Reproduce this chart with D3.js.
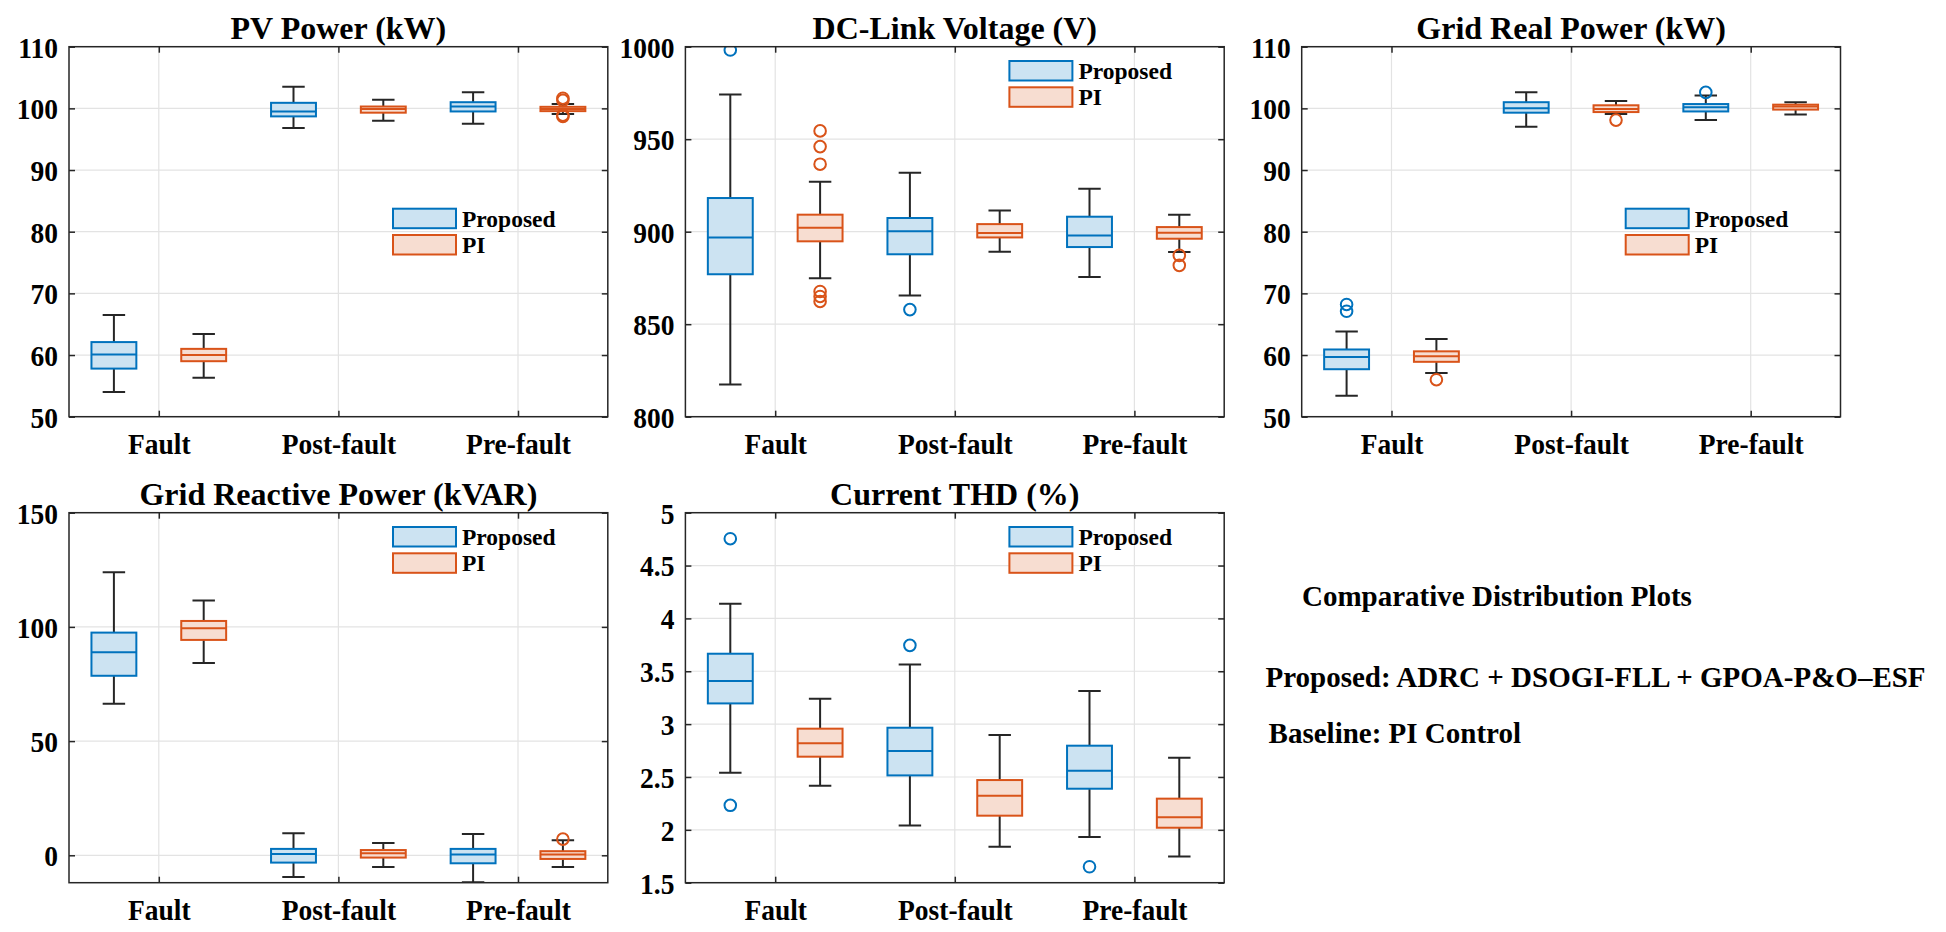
<!DOCTYPE html>
<html>
<head>
<meta charset="utf-8">
<script src="https://cdn.jsdelivr.net/npm/d3@7"></script>
<style>
  html, body { margin: 0; padding: 0; background: #fff; }
  svg { display: block; }
  text { font-family: "Liberation Serif", "Times New Roman", serif; font-weight: bold; fill: #000; }
</style>
</head>
<body>
<svg id="chart" width="1946" height="932"></svg>
<script>
// ---------------- DATA ----------------
const categories = ["Fault", "Post-fault", "Pre-fault"];
const groups = ["Proposed", "PI"];

// box statistics per category: [lower whisker, Q1, median, Q3, upper whisker]
const pvProposed = [[54.0, 57.8, 60.1, 62.1, 66.5], [96.8, 98.7, 99.5, 100.9, 103.5], [97.5, 99.5, 100.3, 101.0, 102.6]];
const pvPI = [[56.3, 59.0, 60.0, 61.0, 63.4], [98.0, 99.3, 99.9, 100.3, 101.4], [99.1, 99.55, 99.9, 100.25, 100.7]];
const pvProposedOutliers = [[], [], []];
const pvPIOutliers = [[], [], [101.65, 101.3, 98.9, 98.7]];
const pvTicks = [50, 60, 70, 80, 90, 100, 110];

const dcProposed = [[817.4, 877.0, 896.9, 918.2, 974.1], [865.5, 887.8, 900.2, 907.4, 931.8], [875.5, 891.7, 898.0, 908.1, 923.2]];
const dcPI = [[874.9, 894.8, 902.2, 909.2, 927.0], [889.2, 896.9, 899.3, 904.1, 911.5], [889.0, 896.2, 899.5, 902.5, 909.2]];
const dcProposedOutliers = [[998.2], [857.9], []];
const dcPIOutliers = [[954.5, 946.0, 936.5, 867.7, 865.0, 862.3], [], [887.2, 881.8]];
const dcTicks = [800, 850, 900, 950, 1000];

const gridPProposed = [[53.4, 57.7, 59.7, 60.9, 63.8], [97.0, 99.3, 100.0, 101.0, 102.6], [98.1, 99.5, 100.2, 100.7, 102.1]];
const gridPPI = [[57.1, 58.9, 59.8, 60.6, 62.6], [99.1, 99.4, 99.9, 100.5, 101.2], [99.0, 99.8, 100.3, 100.6, 101.0]];
const gridPProposedOutliers = [[68.2, 67.1], [], [102.6]];
const gridPPIOutliers = [[56.0], [98.1], []];
const gridPTicks = [50, 60, 70, 80, 90, 100, 110];

const gridQProposed = [[66.4, 78.6, 88.9, 97.5, 123.9], [-9.5, -3.2, 0.6, 2.8, 9.6], [-11.8, -3.5, 0.3, 2.8, 9.3]];
const gridQPI = [[84.2, 94.3, 99.4, 102.6, 111.6], [-5.1, -1.0, 0.9, 2.3, 5.4], [-5.1, -1.6, 0.3, 1.8, 6.6]];
const gridQProposedOutliers = [[], [], []];
const gridQPIOutliers = [[], [], [7.1]];
const gridQTicks = [0, 50, 100, 150];

const thdProposed = [[2.541, 3.196, 3.408, 3.666, 4.139], [2.042, 2.515, 2.746, 2.966, 3.565], [1.932, 2.389, 2.560, 2.796, 3.313]];
const thdPI = [[2.418, 2.692, 2.818, 2.957, 3.241], [1.841, 2.134, 2.323, 2.471, 2.897], [1.749, 2.020, 2.118, 2.295, 2.683]];
const thdProposedOutliers = [[4.754, 2.232], [3.745], [1.651]];
const thdPIOutliers = [[], [], []];
const thdTicks = [1.5, 2, 2.5, 3, 3.5, 4, 4.5, 5];
const thdTickLabels = ["1.5", "2", "2.5", "3", "3.5", "4", "4.5", "5"];

const titles = ["PV Power (kW)", "DC-Link Voltage (V)", "Grid Real Power (kW)", "Grid Reactive Power (kVAR)", "Current THD (%)"];
const noteLines = ["Comparative Distribution Plots", "Proposed: ADRC + DSOGI-FLL + GPOA-P&O\u2013ESF", "Baseline: PI Control"];

// ---------------- LAYOUT ----------------
const colors = { Proposed: "#0072BD", PI: "#D95319" };
const fills = { Proposed: "#CCE3F2", PI: "#F7DDD1" };
const axisColor = "#262626";
const gridColor = "#e3e3e3";

const panels = [
  { title: titles[0], x: 69, y: 46.7, dom: [50, 110], ticks: pvTicks, labels: null, legendTop: 162, prop: pvProposed, pi: pvPI, propOut: pvProposedOutliers, piOut: pvPIOutliers },
  { title: titles[1], x: 685.4, y: 46.7, dom: [800, 1000], ticks: dcTicks, labels: null, legendTop: 14.3, prop: dcProposed, pi: dcPI, propOut: dcProposedOutliers, piOut: dcPIOutliers },
  { title: titles[2], x: 1301.7, y: 46.7, dom: [50, 110], ticks: gridPTicks, labels: null, legendTop: 162, prop: gridPProposed, pi: gridPPI, propOut: gridPProposedOutliers, piOut: gridPPIOutliers },
  { title: titles[3], x: 69, y: 512.7, dom: [-12, 150], ticks: gridQTicks, labels: null, legendTop: 14.3, prop: gridQProposed, pi: gridQPI, propOut: gridQProposedOutliers, piOut: gridQPIOutliers },
  { title: titles[4], x: 685.4, y: 512.7, dom: [1.5, 5], ticks: thdTicks, labels: thdTickLabels, legendTop: 14.3, prop: thdProposed, pi: thdPI, propOut: thdProposedOutliers, piOut: thdPIOutliers }
];
const W = 538.8, H = 370;
const tickLen = 6;
const stretchY = 1.1;

function stretch(sel) {
  sel.each(function () {
    const t = d3.select(this);
    const x = +t.attr("x") || 0, y = +t.attr("y") || 0;
    t.attr("transform", `translate(${x},${y}) scale(1,${stretchY}) translate(${-x},${-y})`);
  });
}

const svg = d3.select("#chart");

panels.forEach((p, pi) => {
  const g = svg.append("g").attr("transform", `translate(${p.x},${p.y})`);
  const xs = d3.scaleLinear().domain([0.5, 3.5]).range([0, W]);
  const ys = d3.scaleLinear().domain(p.dom).range([H, 0]);

  const clipId = "clip" + pi;
  g.append("clipPath").attr("id", clipId).append("rect").attr("x", 0).attr("y", 0).attr("width", W).attr("height", H);

  // grid
  g.append("g").selectAll("line").data(p.ticks).join("line")
    .attr("x1", 0).attr("x2", W).attr("y1", d => ys(d)).attr("y2", d => ys(d))
    .attr("stroke", gridColor).attr("stroke-width", 1.2);
  g.append("g").selectAll("line").data(categories).join("line")
    .attr("x1", (d, i) => xs(i + 1)).attr("x2", (d, i) => xs(i + 1)).attr("y1", 0).attr("y2", H)
    .attr("stroke", gridColor).attr("stroke-width", 1.2);

  // axes
  const fmt = p.labels ? ((d, i) => p.labels[i]) : d3.format("d");
  const yAxis = d3.axisLeft(ys).tickValues(p.ticks).tickFormat(fmt).tickSizeInner(-tickLen).tickSizeOuter(0).tickPadding(11);
  const yAxisR = d3.axisRight(ys).tickValues(p.ticks).tickFormat("").tickSizeInner(-tickLen).tickSizeOuter(0);
  const xAxis = d3.axisBottom(xs).tickValues([1, 2, 3]).tickFormat((d, i) => categories[i]).tickSizeInner(-tickLen).tickSizeOuter(0).tickPadding(16);
  const xAxisT = d3.axisTop(xs).tickValues([1, 2, 3]).tickFormat("").tickSizeInner(-tickLen).tickSizeOuter(0);

  const ga = g.append("g").call(yAxis);
  const gr = g.append("g").attr("transform", `translate(${W},0)`).call(yAxisR);
  const gb = g.append("g").attr("transform", `translate(0,${H})`).call(xAxis);
  const gt = g.append("g").call(xAxisT);
  [ga, gr, gb, gt].forEach(a => {
    a.select(".domain").remove();
    a.selectAll(".tick line").attr("stroke", axisColor).attr("stroke-width", 1.5);
    a.selectAll(".tick text").style("font-size", "27.5px").style("fill", "#000");
  });
  ga.selectAll(".tick text").attr("dy", "0.34em");
  gb.selectAll(".tick text").attr("dy", "0.71em");
  stretch(ga.selectAll(".tick text"));
  stretch(gb.selectAll(".tick text"));

  // boxes
  const bw = 0.125, cap = 0.0625, off = 0.25;
  const series = [{ name: "Proposed", stats: p.prop, out: p.propOut, dx: -off }, { name: "PI", stats: p.pi, out: p.piOut, dx: off }];
  const marks = g.append("g").attr("clip-path", `url(#${clipId})`);
  series.forEach(s => {
    s.stats.forEach((st, ci) => {
      const cx = ci + 1 + s.dx;
      const [lo, q1, med, q3, hi] = st;
      const bg = marks.append("g");
      bg.append("line").attr("x1", xs(cx)).attr("x2", xs(cx)).attr("y1", ys(q3)).attr("y2", ys(hi)).attr("stroke", axisColor).attr("stroke-width", 2);
      bg.append("line").attr("x1", xs(cx)).attr("x2", xs(cx)).attr("y1", ys(q1)).attr("y2", ys(lo)).attr("stroke", axisColor).attr("stroke-width", 2);
      bg.append("line").attr("x1", xs(cx - cap)).attr("x2", xs(cx + cap)).attr("y1", ys(hi)).attr("y2", ys(hi)).attr("stroke", axisColor).attr("stroke-width", 2);
      bg.append("line").attr("x1", xs(cx - cap)).attr("x2", xs(cx + cap)).attr("y1", ys(lo)).attr("y2", ys(lo)).attr("stroke", axisColor).attr("stroke-width", 2);
      bg.append("rect").attr("x", xs(cx - bw)).attr("width", xs(cx + bw) - xs(cx - bw))
        .attr("y", ys(q3)).attr("height", ys(q1) - ys(q3))
        .attr("fill", fills[s.name]).attr("stroke", colors[s.name]).attr("stroke-width", 2);
      bg.append("line").attr("x1", xs(cx - bw)).attr("x2", xs(cx + bw)).attr("y1", ys(med)).attr("y2", ys(med))
        .attr("stroke", colors[s.name]).attr("stroke-width", 2);
      bg.selectAll("circle").data(s.out[ci]).join("circle")
        .attr("cx", xs(cx)).attr("cy", d => ys(d)).attr("r", 5.8)
        .attr("fill", "none").attr("stroke", colors[s.name]).attr("stroke-width", 2);
    });
  });

  // frame
  g.append("rect").attr("x", 0).attr("y", 0).attr("width", W).attr("height", H)
    .attr("fill", "none").attr("stroke", axisColor).attr("stroke-width", 1.5);

  // title
  g.append("text").attr("x", W / 2).attr("y", -7.5).attr("text-anchor", "middle").style("font-size", "32px").text(p.title);

  // legend
  const lg = g.append("g").attr("transform", `translate(324,${p.legendTop})`);
  groups.forEach((name, i) => {
    lg.append("rect").attr("x", 0).attr("y", i * 26.3).attr("width", 63).attr("height", 19.5)
      .attr("fill", fills[name]).attr("stroke", colors[name]).attr("stroke-width", 2);
    lg.append("text").attr("x", 69).attr("y", i * 26.3 + 9.75).attr("dy", "0.35em").style("font-size", "23.5px").text(name);
  });
});

// annotation
const noteX = [1302, 1265.5, 1268.6];
const noteY = [605.7, 686.5, 742.7];
svg.append("g").selectAll("text").data(noteLines).join("text")
  .attr("x", (d, i) => noteX[i]).attr("y", (d, i) => noteY[i])
  .style("font-size", "29px").text(d => d);
</script>
</body>
</html>
